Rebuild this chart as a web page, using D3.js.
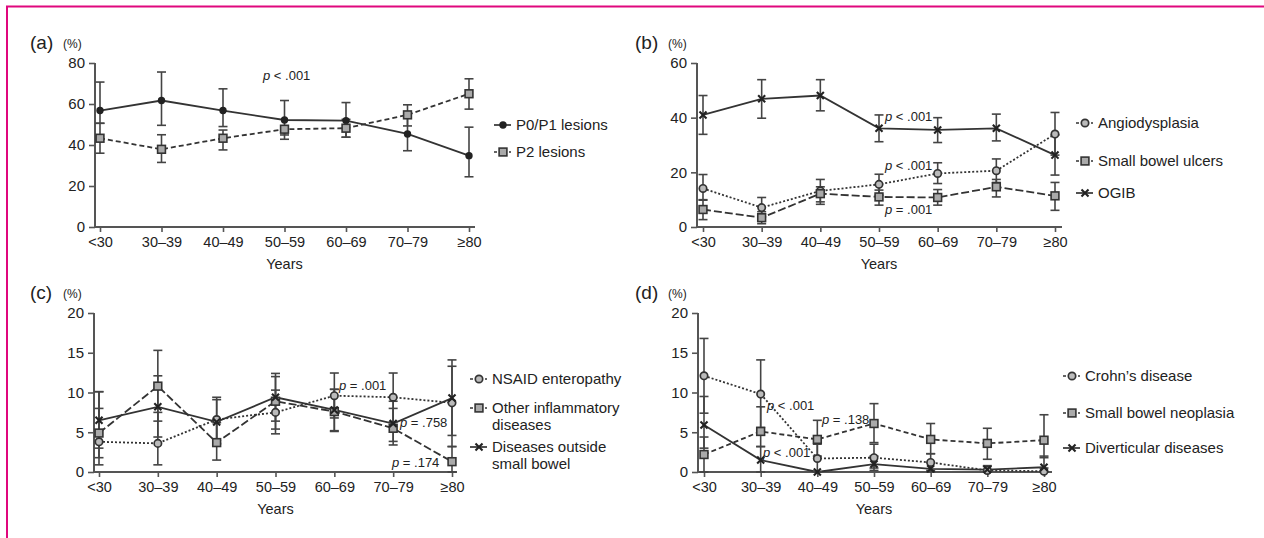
<!DOCTYPE html>
<html>
<head>
<meta charset="utf-8">
<script src="https://cdn.jsdelivr.net/npm/d3@7"></script>
<style>
  body { margin: 0; background: #fff; }
  svg { display: block; font-family: "Liberation Sans", Arial, sans-serif; }
</style>
</head>
<body>
<script>
// Age groups (x categories)
const ages = ['<30', '30–39', '40–49', '50–59', '60–69', '70–79', '≥80'];

// (a) lesion types
const p0p1 = [56.8, 61.7, 56.8, 52.2, 51.9, 45.4, 34.8];
const p0p1Lo = [50.6, 49.6, 49.0, 44.9, 43.8, 37.2, 24.5];
const p0p1Hi = [70.7, 75.6, 67.4, 61.7, 60.7, 54.0, 48.7];
const p2 = [43.3, 37.9, 43.3, 47.7, 48.2, 54.7, 65.0];
const p2Lo = [36.0, 31.5, 37.6, 42.8, 43.8, 49.3, 57.5];
const p2Hi = [50.6, 45.0, 47.3, 49.0, 52.5, 59.6, 72.3];

// (b) main findings
const angio = [14.1, 7.1, 13.2, 15.6, 19.6, 20.6, 34.0];
const angioLo = [9.8, 3.7, 9.2, 11.6, 15.9, 16.3, 26.3];
const angioHi = [19.2, 10.8, 17.4, 19.3, 23.5, 24.9, 41.9];
const ulcers = [6.4, 3.4, 12.2, 11.0, 10.8, 14.7, 11.4];
const ulcersLo = [2.7, 1.2, 8.3, 8.0, 8.0, 11.0, 6.1];
const ulcersHi = [10.0, 5.6, 14.7, 13.5, 13.7, 17.4, 16.3];
const ogib = [41.0, 46.9, 48.1, 36.1, 35.5, 36.1, 26.3];
const ogibLo = [33.9, 39.8, 42.5, 31.2, 30.9, 31.5, 19.0];
const ogibHi = [48.1, 53.9, 53.9, 41.0, 40.0, 41.3, 33.7];

// (c)
const nsaid = [3.8, 3.6, 6.6, 7.5, 9.6, 9.4, 8.7];
const nsaidLo = [1.8, 0.9, 3.6, 4.8, 6.8, 6.3, 3.2];
const nsaidHi = [8.0, 7.5, 9.4, 10.3, 12.45, 12.45, 13.3];
const otherInfl = [4.9, 10.8, 3.7, 8.9, 7.6, 5.5, 1.3];
const otherInflLo = [0.9, 6.4, 1.5, 5.4, 5.1, 3.85, 0.0];
const otherInflHi = [10.1, 15.3, 6.2, 12.4, 10.4, 8.0, 3.2];
const outside = [6.5, 8.2, 6.3, 9.4, 7.8, 6.1, 9.3];
const outsideLo = [3.0, 4.4, 3.5, 6.4, 5.2, 3.4, 4.6];
const outsideHi = [10.1, 12.1, 9.1, 12.0, 10.4, 8.9, 14.1];

// (d)
const crohn = [12.1, 9.8, 1.7, 1.8, 1.2, 0.2, 0.1];
const crohnLo = [7.4, 5.6, 0.0, 0.5, 0.2, 0.0, 0.0];
const crohnHi = [16.8, 14.1, 3.5, 3.5, 2.3, 0.7, 0.5];
const neo = [2.2, 5.1, 4.1, 6.1, 4.1, 3.6, 4.0];
const neoLo = [0.0, 3.2, 2.0, 3.7, 2.3, 1.6, 1.8];
const neoHi = [4.4, 8.2, 6.5, 8.6, 6.1, 5.5, 7.2];
const divert = [5.9, 1.5, 0.0, 1.0, 0.4, 0.3, 0.6];
const divertLo = [3.0, 0.0, 0.0, 0.2, 0.0, 0.0, 0.0];
const divertHi = [9.5, 3.2, 0.0, 2.0, 1.2, 0.8, 2.0];

const ink = '#333';

let svg = d3.select('body')
  .append('svg')
    .attr('width', 1264)
    .attr('height', 538);

// pink frame
svg.append('path')
  .attr('d', 'M7,538 V6.5 H1264')
  .attr('fill', 'none')
  .attr('stroke', '#e0077d')
  .attr('stroke-width', 2);

const dashes = { solid: null, dash: '5,3', longdash: '8,3', dot: '2,2' };

function marker(g, type, x, y) {
  if (type === 'dot') {
    g.append('circle').attr('cx', x).attr('cy', y).attr('r', 3.7).attr('fill', '#222');
  } else if (type === 'circle') {
    g.append('circle').attr('cx', x).attr('cy', y).attr('r', 3.7)
      .attr('fill', '#bbb').attr('stroke', '#333').attr('stroke-width', 1.7);
  } else if (type === 'square') {
    g.append('rect').attr('x', x - 3.9).attr('y', y - 3.9).attr('width', 7.8).attr('height', 7.8)
      .attr('fill', '#aaa').attr('stroke', '#333').attr('stroke-width', 1.6);
  } else {
    g.append('path')
      .attr('d', d3.symbol().type(d3.symbolTimes).size(34)())
      .attr('transform', `translate(${x},${y})`)
      .attr('fill', 'none').attr('stroke', '#222').attr('stroke-width', 2.1);
  }
}

function drawPanel(p) {
  let g = svg.append('g');

  let x = d3.scalePoint().domain(ages).range([p.x0, p.x1]);
  let y = d3.scaleLinear().domain([0, p.ymax]).range([p.yb, p.yt]);

  // axes
  let yAxis = g.append('g')
    .attr('transform', `translate(${p.ax},0)`)
    .call(d3.axisLeft(y).tickValues(p.ticks).tickSize(6).tickPadding(4).tickSizeOuter(0));
  yAxis.select('.domain').remove();
  yAxis.selectAll('.tick text').style('font-size', '15px');
  g.append('line')
    .attr('x1', p.ax).attr('x2', p.ax).attr('y1', p.yt).attr('y2', p.yb)
    .attr('stroke', '#555').attr('stroke-width', 2);

  let xAxis = g.append('g')
    .attr('transform', `translate(0,${p.yb})`)
    .call(d3.axisBottom(x).tickSize(5).tickPadding(5));
  xAxis.select('.domain').remove();
  xAxis.selectAll('.tick text').style('font-size', '14.5px');
  g.append('line')
    .attr('x1', p.ax).attr('x2', p.axEnd).attr('y1', p.yb).attr('y2', p.yb)
    .attr('stroke', '#555').attr('stroke-width', 2);

  g.selectAll('.tick line').attr('stroke', '#555').attr('stroke-width', 1.6);
  g.selectAll('.tick text').attr('fill', '#222');

  // labels
  g.append('text').attr('x', p.lx).attr('y', p.ly).attr('fill', '#222')
    .style('font-size', '19px').text(p.tag);
  g.append('text').attr('x', p.lx + 33).attr('y', p.ly - 1).attr('fill', '#222')
    .style('font-size', '12px').text('(%)');
  g.append('text').attr('x', (p.x0 + p.x1) / 2).attr('y', p.yb + 42).attr('fill', '#222')
    .attr('text-anchor', 'middle').style('font-size', '14.5px').text('Years');

  // series
  p.series.forEach(s => {
    let line = d3.line().x((d, i) => x(ages[i])).y(d => y(d));
    g.append('path')
      .datum(s.values)
      .attr('d', line)
      .attr('fill', 'none')
      .attr('stroke', ink)
      .attr('stroke-width', 1.8)
      .attr('stroke-dasharray', dashes[s.dash]);
  });
  p.series.forEach(s => {
    ages.forEach((a, i) => {
      let cx = x(a);
      let lo = y(s.lo[i]), hi = y(s.hi[i]);
      g.append('line').attr('x1', cx).attr('x2', cx).attr('y1', lo).attr('y2', hi)
        .attr('stroke', '#444').attr('stroke-width', 1.6);
      [lo, hi].forEach(v => g.append('line')
        .attr('x1', cx - 4.5).attr('x2', cx + 4.5).attr('y1', v).attr('y2', v)
        .attr('stroke', '#444').attr('stroke-width', 1.6));
    });
  });
  p.series.forEach(s => {
    s.values.forEach((v, i) => marker(g, s.marker, x(ages[i]), y(v)));
  });

  // p values
  p.notes.forEach(n => {
    let t = g.append('text').attr('x', n.x).attr('y', n.y).attr('fill', '#222').style('font-size', '13px');
    t.append('tspan').style('font-style', 'italic').text('p');
    t.append('tspan').text(n.text);
  });

  // legend
  p.series.forEach((s, k) => {
    let ly = p.legY[k];
    g.append('line')
      .attr('x1', p.legX - 22).attr('x2', p.legX - 5).attr('y1', ly).attr('y2', ly)
      .attr('stroke', ink).attr('stroke-width', 1.7)
      .attr('stroke-dasharray', s.dash === 'solid' ? null : '3,2');
    marker(g, s.marker, p.legX - 13, ly);
    let t = g.append('text').attr('x', p.legX).attr('y', ly + 5).attr('fill', '#222')
      .style('font-size', '15px');
    s.name.forEach((nm, j) => t.append('tspan').attr('x', p.legX).attr('dy', j ? 17 : 0).text(nm));
  });
}

drawPanel({
  tag: '(a)', lx: 30, ly: 49,
  ax: 95, axEnd: 475, x0: 100, x1: 469, yb: 227, yt: 63, ymax: 80, ticks: [0, 20, 40, 60, 80],
  series: [
    { name: ['P0/P1 lesions'], values: p0p1, lo: p0p1Lo, hi: p0p1Hi, marker: 'dot', dash: 'solid' },
    { name: ['P2 lesions'], values: p2, lo: p2Lo, hi: p2Hi, marker: 'square', dash: 'dash' }
  ],
  legX: 516, legY: [125, 152],
  notes: [{ x: 263, y: 80, text: ' < .001' }]
});

drawPanel({
  tag: '(b)', lx: 635, ly: 49,
  ax: 697, axEnd: 1062, x0: 703, x1: 1055, yb: 227, yt: 63, ymax: 60, ticks: [0, 20, 40, 60],
  series: [
    { name: ['Angiodysplasia'], values: angio, lo: angioLo, hi: angioHi, marker: 'circle', dash: 'dot' },
    { name: ['Small bowel ulcers'], values: ulcers, lo: ulcersLo, hi: ulcersHi, marker: 'square', dash: 'longdash' },
    { name: ['OGIB'], values: ogib, lo: ogibLo, hi: ogibHi, marker: 'star', dash: 'solid' }
  ],
  legX: 1098, legY: [123, 161, 193],
  notes: [
    { x: 885, y: 121, text: ' < .001' },
    { x: 885, y: 170, text: ' < .001' },
    { x: 885, y: 214, text: ' = .001' }
  ]
});

drawPanel({
  tag: '(c)', lx: 30, ly: 299,
  ax: 94, axEnd: 457, x0: 99, x1: 452, yb: 472, yt: 313, ymax: 20, ticks: [0, 5, 10, 15, 20],
  series: [
    { name: ['NSAID enteropathy'], values: nsaid, lo: nsaidLo, hi: nsaidHi, marker: 'circle', dash: 'dot' },
    { name: ['Other inflammatory', 'diseases'], values: otherInfl, lo: otherInflLo, hi: otherInflHi, marker: 'square', dash: 'longdash' },
    { name: ['Diseases outside', 'small bowel'], values: outside, lo: outsideLo, hi: outsideHi, marker: 'star', dash: 'solid' }
  ],
  legX: 492, legY: [379, 408, 447],
  notes: [
    { x: 339, y: 390, text: ' = .001' },
    { x: 400, y: 427, text: ' = .758' },
    { x: 392, y: 467, text: ' = .174' }
  ]
});

drawPanel({
  tag: '(d)', lx: 635, ly: 299,
  ax: 698, axEnd: 1052, x0: 704, x1: 1044, yb: 472, yt: 313, ymax: 20, ticks: [0, 5, 10, 15, 20],
  series: [
    { name: ['Crohn’s disease'], values: crohn, lo: crohnLo, hi: crohnHi, marker: 'circle', dash: 'dot' },
    { name: ['Small bowel neoplasia'], values: neo, lo: neoLo, hi: neoHi, marker: 'square', dash: 'dash' },
    { name: ['Diverticular diseases'], values: divert, lo: divertLo, hi: divertHi, marker: 'star', dash: 'solid' }
  ],
  legX: 1085, legY: [376, 413, 448],
  notes: [
    { x: 767, y: 410, text: ' < .001' },
    { x: 763, y: 457, text: ' < .001' },
    { x: 822, y: 424, text: ' = .138' }
  ]
});
</script>
</body>
</html>
